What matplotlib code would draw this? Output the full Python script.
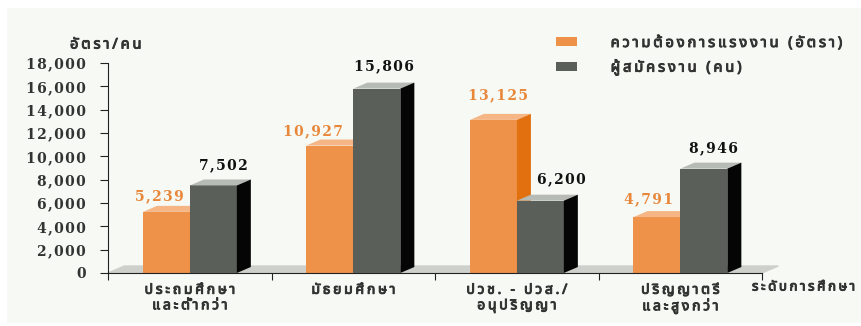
import unicodedata
import numpy as np
import matplotlib
matplotlib.use('Agg')
import matplotlib.pyplot as plt
import matplotlib.patheffects as pe
from matplotlib import font_manager
from matplotlib.ft2font import FT2Font
from matplotlib.patches import Patch, Rectangle

# data
categories = ['ประถมศึกษา\nและต่ำกว่า', 'มัธยมศึกษา', 'ปวช. - ปวส./\nอนุปริญญา', 'ปริญญาตรี\nและสูงกว่า']
demand = [5239, 10927, 13125, 4791]       # ความต้องการแรงงาน (อัตรา)
applicants = [7502, 15806, 6200, 8946]    # ผู้สมัครงาน (คน)
series_names = ['ความต้องการแรงงาน (อัตรา)', 'ผู้สมัครงาน (คน)']
yticks = np.arange(0, 18001, 2000)


def thai_font():
    # look for any installed font that actually has Thai glyphs
    names = []
    for f in font_manager.fontManager.ttflist:
        try:
            cmap = FT2Font(f.fname).get_charmap()
        except Exception:
            continue
        if 0x0E01 in cmap and 0x0E31 in cmap and 0x0E48 in cmap:
            names.append(f.name)
    for pref in ['Noto Sans Thai', 'Noto Serif Thai', 'Loma', 'Garuda', 'Norasi', 'Kinnari']:
        if pref in names:
            return pref
    return names[0] if names else 'DejaVu Sans'


def spaced(s, sp='\u2009'):
    # the original uses very loose letter spacing, fake it with thin spaces
    out = ''
    for i, ch in enumerate(s):
        if i > 0 and ch != '\n' and s[i - 1] != '\n' and unicodedata.category(ch) != 'Mn':
            out += sp
        out += ch
    return out


TH = [thai_font(), 'DejaVu Sans']
NUM = ['DejaVu Serif', 'DejaVu Sans']
bold = [pe.withStroke(linewidth=0.7, foreground='#333333')]

orange = '#EE9149'
orange_top = '#F5B585'
orange_side = '#E2700F'
grey = '#5A5F5A'
grey_top = '#B7BBB6'
grey_side = '#050505'
bg = '#F6F9F4'

W, H = 861, 326
fig = plt.figure(figsize=(W / 100, H / 100), dpi=100)
fig.patch.set_facecolor('white')
fig.patches.append(Rectangle((7 / W, 3 / H), 854 / W, 315 / H, transform=fig.transFigure,
                             facecolor=bg, edgecolor='none', zorder=-10))

ax = fig.add_axes([108 / W, (H - 273) / H, 654 / W, 210 / H])
ax.set_facecolor('none')
ax.set_xlim(0, len(categories))
ax.set_ylim(0, 18000)

# pseudo 3d depth in data units (about 14 px across, 6 px up)
px_x = len(categories) / 654
px_y = 18000 / 210
dx = 14 * px_x
dy = 6 * px_y
bw = 0.287
x = np.arange(len(categories))
x_or = x + 0.214
x_gr = x_or + bw

# floor
ax.fill([0, 4, 4 + 0.1, 0.1], [0, 0, 600, 600], color='#CDD0CB', zorder=1, clip_on=False)


def bar3d(x0, h, front, top, side, z):
    ax.bar(x0, h, width=bw, align='edge', color=front, zorder=z, linewidth=0)
    ax.fill([x0, x0 + bw, x0 + bw + dx, x0 + dx], [h, h, h + dy, h + dy],
            color=top, zorder=z, linewidth=0, clip_on=False)
    ax.fill([x0 + bw, x0 + bw + dx, x0 + bw + dx, x0 + bw], [0, dy, h + dy, h],
            color=side, zorder=z, linewidth=0, clip_on=False)


for i in range(len(categories)):
    bar3d(x_or[i], demand[i], orange, orange_top, orange_side, 2)
    bar3d(x_gr[i], applicants[i], grey, grey_top, grey_side, 3)

# value labels, hand placed in the original so nudge them (pixels)
or_dx = [-7, -17, 5, -8]
or_dy = [16, 14, 25, 18]
gr_dx = [10, 7, 21, 10]
gr_dy = [20, 22, 21, 20]
num_sp = '\u200a'
for i in range(len(categories)):
    ax.text(x_or[i] + bw / 2 + or_dx[i] * px_x, demand[i] + or_dy[i] * px_y,
            spaced(f'{demand[i]:,}', num_sp),
            ha='center', va='center', fontsize=10, fontweight='bold', family=NUM,
            color='#E8873A', zorder=5)
    ax.text(x_gr[i] + bw / 2 + gr_dx[i] * px_x, applicants[i] + gr_dy[i] * px_y,
            spaced(f'{applicants[i]:,}', num_sp),
            ha='center', va='center', fontsize=10, fontweight='bold', family=NUM,
            color='#111111', zorder=5)

# axes
for s in ['top', 'right']:
    ax.spines[s].set_visible(False)
ax.spines['left'].set_color('#222222')
ax.spines['bottom'].set_color('#222222')
ax.spines['left'].set_zorder(6)
ax.set_yticks(yticks)
ax.set_yticklabels([spaced(f'{v:,}', num_sp) for v in yticks], family=NUM, fontweight='bold',
                   fontsize=10, color='#333333')
ax.tick_params(axis='y', direction='out', length=6, pad=10, color='#222222')
ax.set_xticks(np.arange(len(categories) + 1))
ax.set_xticklabels([])
ax.tick_params(axis='x', which='major', direction='out', length=5, color='#222222')
ax.set_xticks(x + 0.5, minor=True)
ax.set_xticklabels([spaced(c) for c in categories], minor=True, family=TH, fontsize=10,
                   color='#333333', linespacing=1.05)
ax.tick_params(axis='x', which='minor', length=0, pad=7)
for t in ax.get_xticklabels(minor=True):
    t.set_path_effects(bold)

fig.text(70 / W, (H - 45) / H, spaced('อัตรา/คน'), family=TH, fontsize=10.5,
         color='#333333', ha='left', va='center', path_effects=bold)
fig.text(752 / W, (H - 287) / H, spaced('ระดับการศึกษา'), family=TH, fontsize=9.5,
         color='#333333', ha='left', va='center', path_effects=bold)

handles = [Patch(facecolor=orange, edgecolor='none'), Patch(facecolor=grey, edgecolor='none')]
leg = ax.legend(handles, [spaced(s) for s in series_names], loc='upper left',
                bbox_to_anchor=(556 / W, (H - 36) / H),
                bbox_transform=fig.transFigure, frameon=False, borderpad=0, borderaxespad=0,
                handlelength=1.45, handleheight=0.55, handletextpad=2.3, labelspacing=0.6,
                prop={'family': TH, 'size': 10.5})
for t in leg.get_texts():
    t.set_color('#333333')
    t.set_path_effects(bold)

fig.savefig('out.png', dpi=100, facecolor=fig.get_facecolor())
